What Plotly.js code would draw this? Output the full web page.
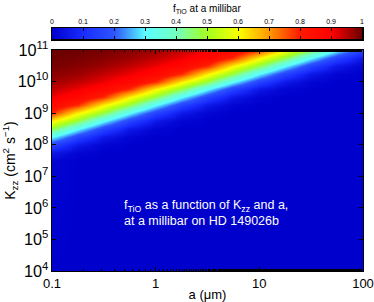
<!DOCTYPE html>
<html>
<head>
<meta charset="utf-8">
<script src="https://cdn.plot.ly/plotly-3.0.1.min.js"></script>
<style>html,body{margin:0;padding:0;background:#fff;}#chart{width:374px;height:302px;}</style>
</head>
<body>
<div id="chart"></div>
<script>
// particle size a (micron), columns
var aValues = [0.1, 0.1778, 0.3162, 0.5623, 1, 1.778, 3.162, 5.623, 10, 17.78, 31.62, 56.23, 100];
// Kzz (cm^2 s^-1), rows
var kzzValues = [1e4, 3.162e7, 5.623e7, 1e8, 1.778e8, 3.162e8, 5.623e8, 1e9, 1.778e9, 3.162e9, 5.623e9, 1e10, 1.778e10, 3.162e10, 5.623e10, 1e11];
// f_TiO at a millibar, rows follow kzzValues, columns follow aValues
var fTiO = [
  [0, 0, 0, 0, 0, 0, 0, 0, 0, 0, 0, 0, 0],
  [0.01, 0, 0, 0, 0, 0, 0, 0, 0, 0, 0, 0, 0],
  [0.05, 0.01, 0, 0, 0, 0, 0, 0, 0, 0, 0, 0, 0],
  [0.15, 0.05, 0.01, 0, 0, 0, 0, 0, 0, 0, 0, 0, 0],
  [0.3, 0.15, 0.05, 0.01, 0, 0, 0, 0, 0, 0, 0, 0, 0],
  [0.47, 0.3, 0.15, 0.05, 0.01, 0, 0, 0, 0, 0, 0, 0, 0],
  [0.61, 0.47, 0.3, 0.15, 0.05, 0.01, 0, 0, 0, 0, 0, 0, 0],
  [0.78, 0.61, 0.47, 0.3, 0.15, 0.05, 0.01, 0, 0, 0, 0, 0, 0],
  [0.87, 0.78, 0.61, 0.47, 0.3, 0.15, 0.05, 0.01, 0, 0, 0, 0, 0],
  [0.91, 0.87, 0.78, 0.61, 0.47, 0.3, 0.15, 0.05, 0.01, 0, 0, 0, 0],
  [0.94, 0.91, 0.87, 0.78, 0.61, 0.47, 0.3, 0.15, 0.05, 0.01, 0, 0, 0],
  [0.965, 0.94, 0.91, 0.87, 0.78, 0.61, 0.47, 0.3, 0.15, 0.05, 0.01, 0, 0],
  [0.98, 0.965, 0.94, 0.91, 0.87, 0.78, 0.61, 0.47, 0.3, 0.15, 0.05, 0.01, 0],
  [0.99, 0.98, 0.965, 0.94, 0.91, 0.87, 0.78, 0.61, 0.47, 0.3, 0.15, 0.05, 0.01],
  [0.995, 0.99, 0.98, 0.965, 0.94, 0.91, 0.87, 0.78, 0.61, 0.47, 0.3, 0.15, 0.05],
  [1.0, 0.995, 0.99, 0.98, 0.965, 0.94, 0.91, 0.87, 0.78, 0.61, 0.47, 0.3, 0.15]
];
// colour bar levels and tick labels
var cbarLevels = [0, 0.1, 0.2, 0.3, 0.4, 0.5, 0.6, 0.7, 0.8, 0.9, 1];
var cbarTickText = ['0', '0.1', '0.2', '0.3', '0.4', '0.5', '0.6', '0.7', '0.8', '0.9', '1'];
var xTickVals = [0.1, 1, 10, 100];
var xTickText = ['0.1', '1', '10', '100'];

var colorscale = [
  [0.0, 'rgb(0,0,205)'],
  [0.1, 'rgb(25,45,255)'],
  [0.2, 'rgb(45,85,255)'],
  [0.3, 'rgb(90,255,255)'],
  [0.4, 'rgb(115,255,190)'],
  [0.5, 'rgb(165,255,30)'],
  [0.6, 'rgb(250,255,0)'],
  [0.7, 'rgb(255,150,0)'],
  [0.8, 'rgb(255,25,0)'],
  [0.9, 'rgb(255,0,0)'],
  [1.0, 'rgb(105,0,0)']
];

var font = 'Liberation Sans, Arial, sans-serif';

var traces = [
  {
    type: 'heatmap', x: aValues, y: kzzValues, z: fTiO,
    coloraxis: 'coloraxis', zsmooth: 'best', xaxis: 'x', yaxis: 'y',
    hoverinfo: 'skip'
  },
  {
    type: 'heatmap', x: cbarLevels, y: [0], z: [cbarLevels],
    coloraxis: 'coloraxis', zsmooth: 'best', xaxis: 'x2', yaxis: 'y2',
    hoverinfo: 'skip'
  }
];

var layout = {
  width: 374, height: 302,
  margin: {l: 52, r: 11, t: 20, b: 31},
  paper_bgcolor: '#fff', plot_bgcolor: '#fff',
  font: {family: font, color: '#000', size: 13},
  showlegend: false,
  coloraxis: {cmin: 0, cmax: 1, colorscale: colorscale, showscale: false},
  xaxis: {
    type: 'log', range: [-1, 2], domain: [0, 1],
    tickvals: xTickVals, ticktext: xTickText,
    ticks: 'inside', ticklen: 4, tickwidth: 1, tickcolor: '#000',
    minor: {ticks: 'inside', ticklen: 2, tickcolor: '#000', showgrid: false},
    showline: true, linecolor: '#000', linewidth: 1, mirror: 'allticks',
    showgrid: false, zeroline: false,
    tickfont: {size: 13},
    title: {text: 'a (μm)', font: {size: 13}, standoff: 1}
  },
  yaxis: {
    type: 'log', range: [4, 11], domain: [0, 0.8805],
    dtick: 1, exponentformat: 'power',
    ticks: 'inside', ticklen: 4, tickwidth: 1, tickcolor: '#000',
    showline: true, linecolor: '#000', linewidth: 1, mirror: 'allticks',
    showgrid: false, zeroline: false,
    tickfont: {size: 13},
    title: {text: 'K<sub>zz</sub> (cm<sup>2</sup> s<sup>−1</sup>)', font: {size: 14}, standoff: 3}
  },
  xaxis2: {
    anchor: 'y2', domain: [0, 0.997], range: [0, 1], side: 'top',
    tickvals: cbarLevels, ticktext: cbarTickText,
    ticks: 'inside', ticklen: 3, tickwidth: 1, tickcolor: '#000',
    showline: true, linecolor: '#000', linewidth: 1.5, mirror: 'allticks',
    showgrid: false, zeroline: false,
    tickfont: {size: 7}
  },
  yaxis2: {
    anchor: 'x2', domain: [0.9243, 0.9681], range: [-0.5, 0.5],
    showticklabels: false, ticks: '', showgrid: false, zeroline: false,
    showline: true, linecolor: '#000', linewidth: 1.5, mirror: true
  },
  annotations: [
    {
      xref: 'paper', yref: 'paper', x: 0.499, y: 1.045, xanchor: 'center', yanchor: 'middle',
      text: 'f<sub>TiO</sub> at a millibar', showarrow: false,
      font: {size: 10, color: '#000'}
    },
    {
      xref: 'paper', yref: 'paper', x: 0.226, y: 0.231, xanchor: 'left', yanchor: 'middle', align: 'left',
      text: 'f<sub>TiO</sub> as a function of K<sub>zz</sub> and a,<br>at a millibar on HD 149026b', showarrow: false,
      font: {size: 12.5, color: '#fff'}
    }
  ]
};

Plotly.newPlot('chart', traces, layout, {staticPlot: true, displayModeBar: false});
</script>
</body>
</html>
